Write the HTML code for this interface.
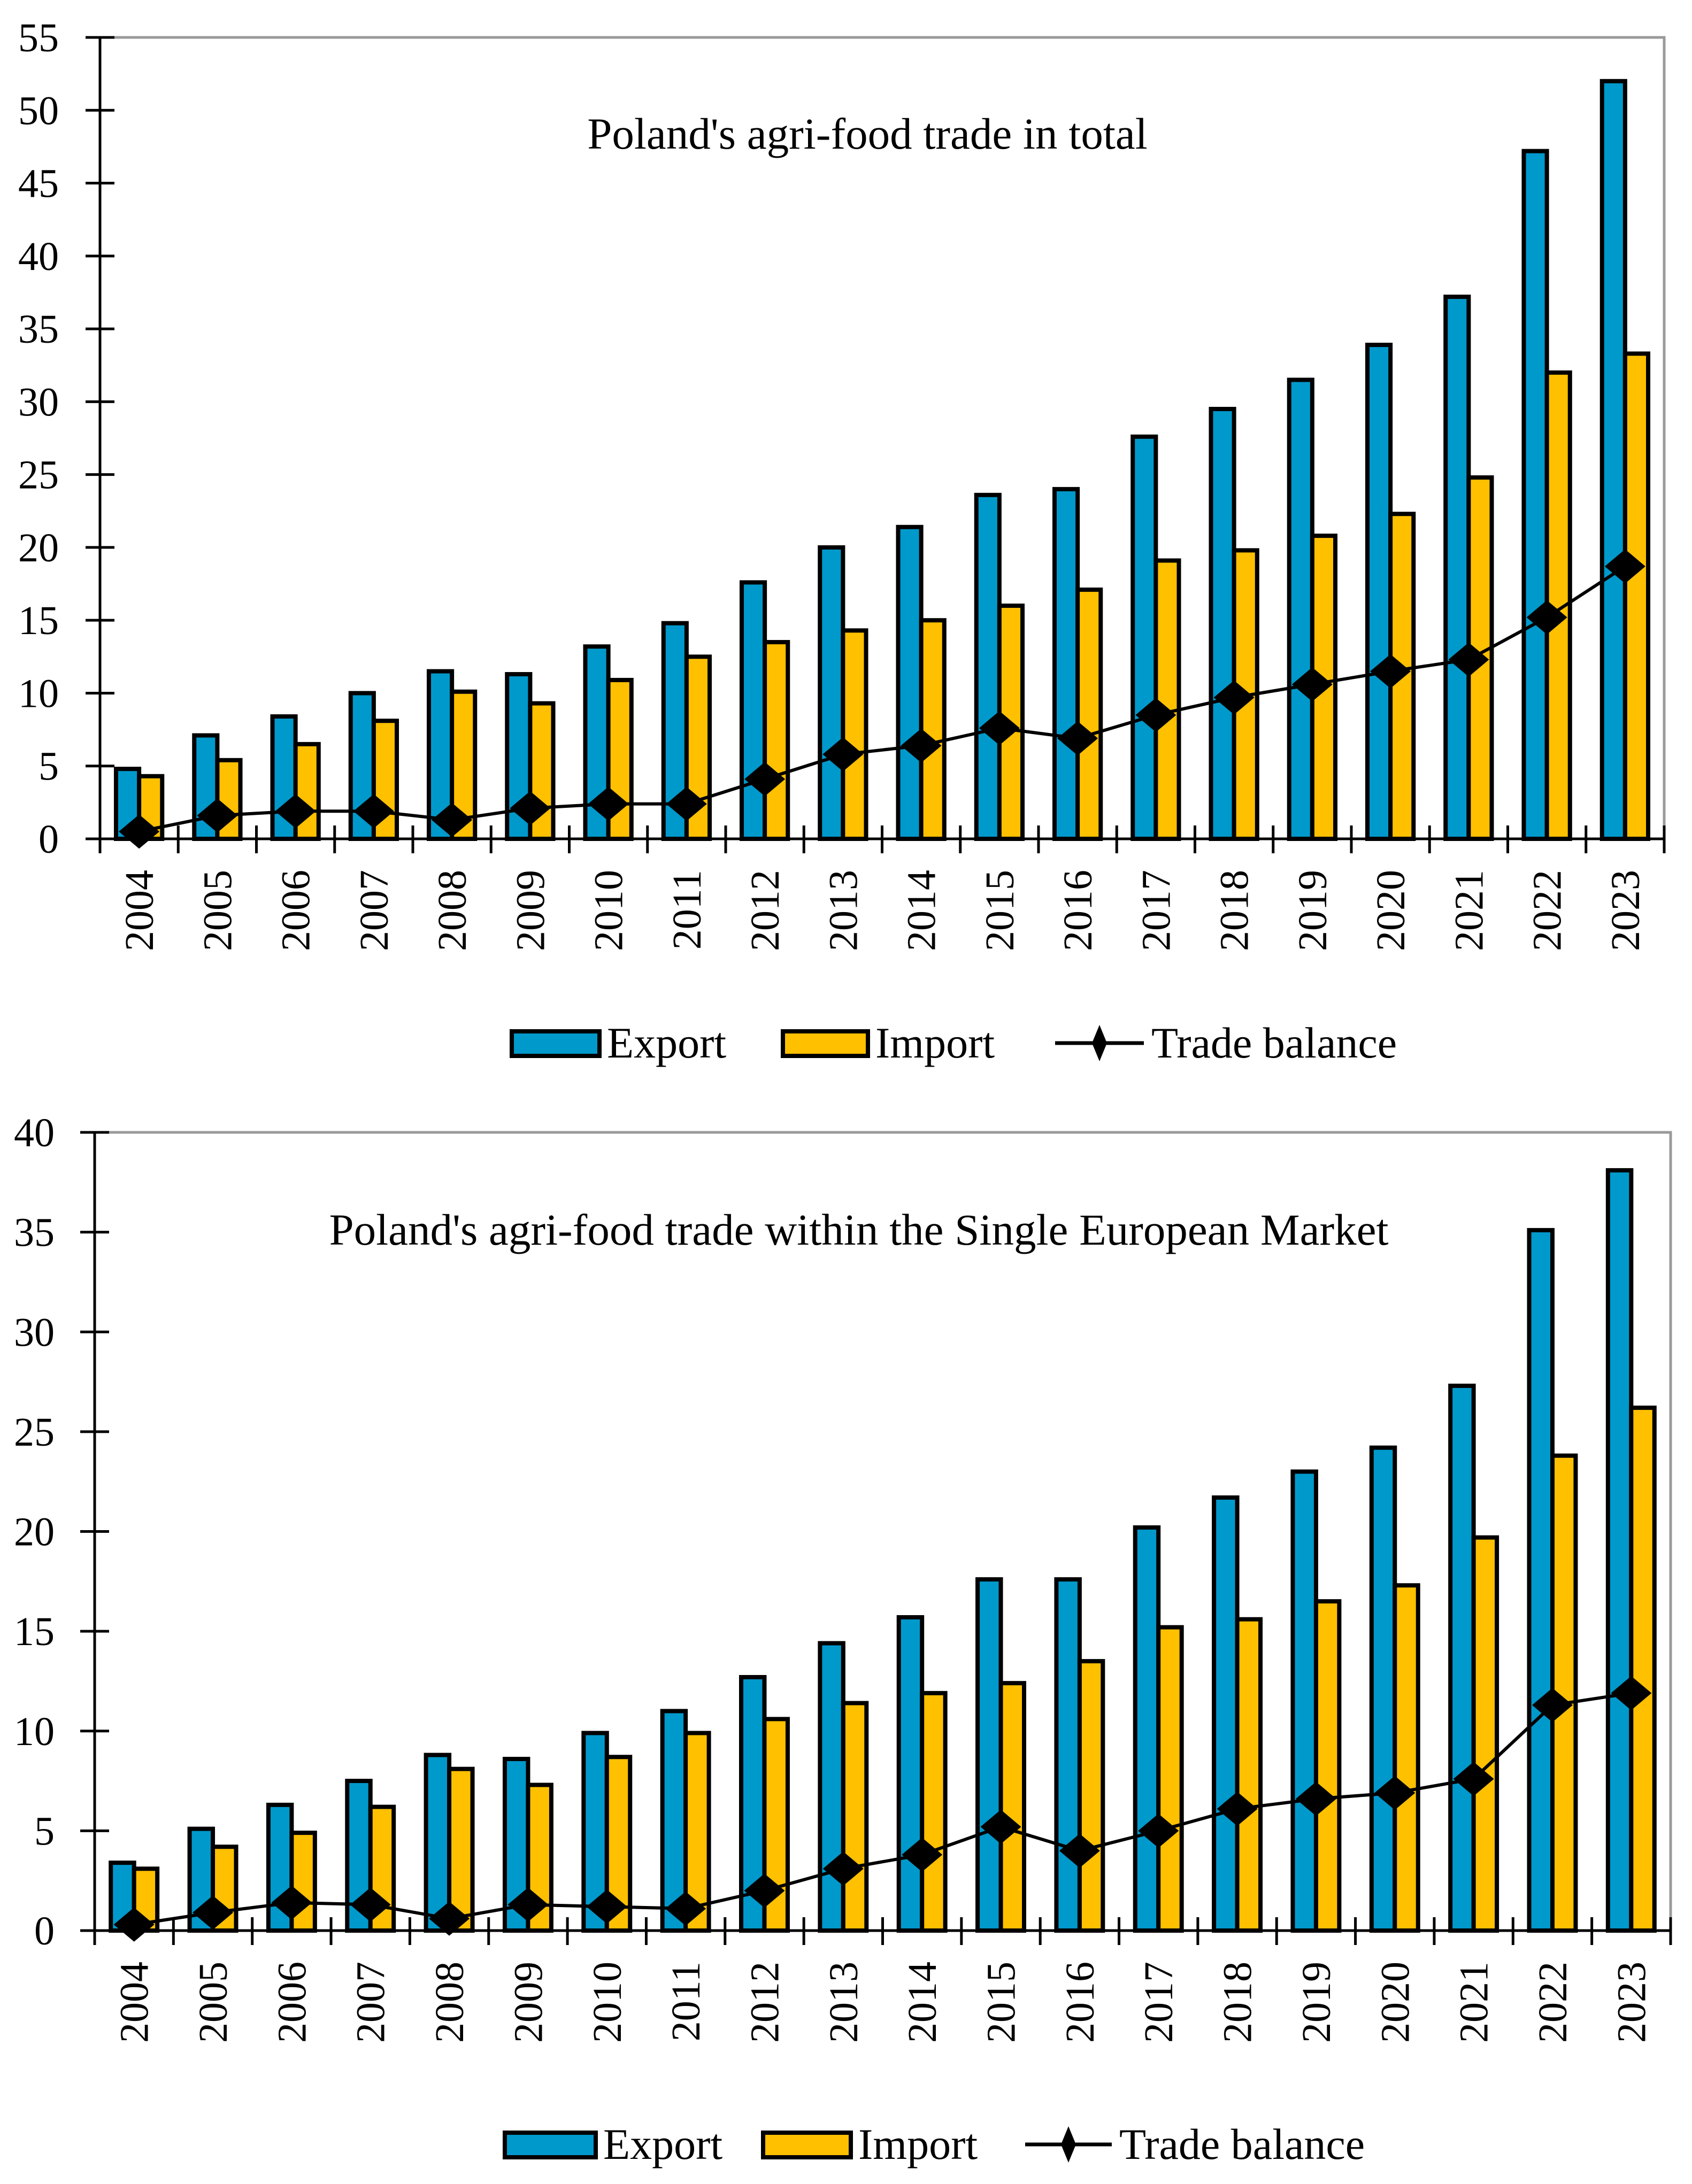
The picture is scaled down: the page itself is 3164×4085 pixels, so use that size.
<!DOCTYPE html>
<html><head><meta charset="utf-8">
<style>
html,body{margin:0;padding:0;background:#fff;}
svg{display:block;font-family:"Liberation Serif",serif;}
</style></head>
<body>
<svg id="chart" width="3164" height="4085" viewBox="0 0 3164 4085" xmlns="http://www.w3.org/2000/svg"></svg>
<script>
const years = ["2004","2005","2006","2007","2008","2009","2010","2011","2012","2013","2014","2015","2016","2017","2018","2019","2020","2021","2022","2023"];
const totalExport = [4.8,7.1,8.4,10.0,11.5,11.3,13.2,14.8,17.6,20.0,21.4,23.6,24.0,27.6,29.5,31.5,33.9,37.2,47.2,52.0];
const totalImport = [4.3,5.4,6.5,8.1,10.1,9.3,10.9,12.5,13.5,14.3,15.0,16.0,17.1,19.1,19.8,20.8,22.3,24.8,32.0,33.3];
const totalBalance = [0.5,1.6,1.9,1.9,1.3,2.1,2.4,2.4,4.1,5.8,6.4,7.6,6.9,8.5,9.7,10.6,11.5,12.3,15.2,18.7];
const euExport = [3.4,5.1,6.3,7.5,8.8,8.6,9.9,11.0,12.7,14.4,15.7,17.6,17.6,20.2,21.7,23.0,24.2,27.3,35.1,38.1];
const euImport = [3.1,4.2,4.9,6.2,8.1,7.3,8.7,9.9,10.6,11.4,11.9,12.4,13.5,15.2,15.6,16.5,17.3,19.7,23.8,26.2];
const euBalance = [0.3,0.9,1.4,1.3,0.6,1.3,1.2,1.1,2.0,3.1,3.8,5.2,4.0,5.0,6.1,6.6,6.9,7.6,11.3,11.9];
const ticks1 = [0,5,10,15,20,25,30,35,40,45,50,55];
const ticks2 = [0,5,10,15,20,25,30,35,40];

const NS = "http://www.w3.org/2000/svg";
const svg = document.getElementById("chart");
function mk(tag, attrs, parent, text){
  const e = document.createElementNS(NS, tag);
  for (const k in attrs) e.setAttribute(k, attrs[k]);
  if (text !== undefined) e.textContent = text;
  (parent || svg).appendChild(e);
  return e;
}

function drawChart(cfg){
  const g = mk("g", {});
  
  
  const L = cfg.left, R = cfg.right, T = cfg.top, B = cfg.bottom, maxV = cfg.max;
  const n = years.length, cw = (R - L) / n;
  const y = v => B - (v / maxV) * (B - T);
  const xc = i => L + cw * (i + 0.5);
  const fr = mk("path", {d:`M${L} ${T} H${R} V${B}`, fill:"none", stroke:"#9a9a9a", "stroke-width":5}, g);
  
  
  for (let i = 0; i < n; i++){
    const x0 = L + cw * i + cw * 0.205, bw = cw * 0.295;
    const be = mk("rect", {x:x0, y:y(cfg.exp[i]), width:bw, height:B - y(cfg.exp[i]), fill:"#0099CC", stroke:"#000", "stroke-width":8}, g);
    
    
    const bi = mk("rect", {x:x0 + bw, y:y(cfg.imp[i]), width:bw, height:B - y(cfg.imp[i]), fill:"#FFC000", stroke:"#000", "stroke-width":8}, g);
    
    
  }
  const ya = mk("line", {x1:L, y1:T, x2:L, y2:B + 25, stroke:"#000", "stroke-width":5}, g);
  
  
  const xa = mk("line", {x1:L - 25, y1:B, x2:R, y2:B, stroke:"#000", "stroke-width":5}, g);
  
  
  cfg.ticks.forEach(t => {
    const tk = mk("line", {x1:L - 27, y1:y(t), x2:L + 27, y2:y(t), stroke:"#000", "stroke-width":5}, g);
    
    
    const tl = mk("text", {x:cfg.labelRight, y:y(t) + 26, "text-anchor":"end", "font-size":76, fill:"#000"}, g, String(t));
    
    
  });
  for (let i = 0; i <= n; i++){
    const tk = mk("line", {x1:L + cw * i, y1:B - 25, x2:L + cw * i, y2:B + 27, stroke:"#000", "stroke-width":5}, g);
    
    
  }
  years.forEach((yr, i) => {
    const lx = xc(i) + 26, ly = B + 58;
    const t = mk("text", {x:lx, y:ly, "text-anchor":"end", "font-size":76, fill:"#000", transform:`rotate(-90 ${lx} ${ly})`}, g, yr);
    
    
  });
  const pts = cfg.bal.map((v, i) => `${xc(i)},${y(v)}`).join(" ");
  const pl = mk("polyline", {points:pts, fill:"none", stroke:"#000", "stroke-width":6}, g);
  
  
  cfg.bal.forEach((v, i) => {
    const cx = xc(i), cy = y(v);
    const d = mk("path", {d:`M${cx - 38} ${cy} L${cx} ${cy - 32} L${cx + 38} ${cy} L${cx} ${cy + 32} Z`, fill:"#000"}, g);
    
    
  });
  const tt = mk("text", {x:cfg.titleX, y:cfg.titleY, "text-anchor":"middle", "font-size":83, fill:"#000"}, g, cfg.title);
  
  
  const ly = cfg.legY, lg = cfg.leg;
  const lgG = mk("g", {}, g);
  
  
  const r1 = mk("rect", {x:lg[0], y:ly - 22, width:lg[1] - lg[0], height:46, fill:"#0099CC", stroke:"#000", "stroke-width":8}, lgG);
  
  
  const t1 = mk("text", {x:lg[1] + 14, y:ly + 27, "font-size":82}, lgG, "Export");
  
  
  const r2 = mk("rect", {x:lg[2], y:ly - 22, width:lg[3] - lg[2], height:46, fill:"#FFC000", stroke:"#000", "stroke-width":8}, lgG);
  
  
  const t2 = mk("text", {x:lg[3] + 14, y:ly + 27, "font-size":82}, lgG, "Import");
  
  
  const l3 = mk("line", {x1:lg[4], y1:ly, x2:lg[5], y2:ly, stroke:"#000", "stroke-width":7}, lgG);
  
  
  const mx = (lg[4] + lg[5]) / 2;
  const d3 = mk("path", {d:`M${mx - 14} ${ly} L${mx} ${ly - 34} L${mx + 14} ${ly} L${mx} ${ly + 34} Z`, fill:"#000"}, lgG);
  
  
  const t3 = mk("text", {x:lg[5] + 14, y:ly + 27, "font-size":82}, lgG, "Trade balance");
  
  
}

drawChart({name:"total-trade-chart", left:187, right:3112, top:70, bottom:1569, max:55,
  ticks:ticks1, exp:totalExport, imp:totalImport, bal:totalBalance, labelRight:110,
  title:"Poland's agri-food  trade in total", titleX:1622, titleY:278,
  legY:1951, leg:[957,1121,1464,1623,1973,2139]});
drawChart({name:"single-market-trade-chart", left:177, right:3124, top:2118, bottom:3611, max:40,
  ticks:ticks2, exp:euExport, imp:euImport, bal:euBalance, labelRight:102,
  title:"Poland's agri-food  trade within the Single European Market", titleX:1606, titleY:2328,
  legY:4011, leg:[944,1114,1427,1591,1917,2079]});
</script>
</body></html>
